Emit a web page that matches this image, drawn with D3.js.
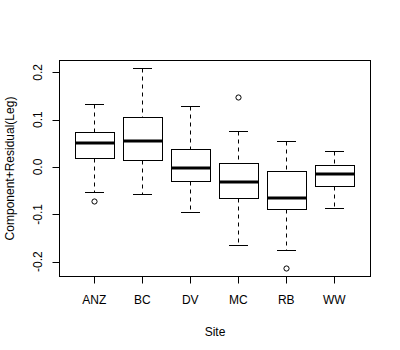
<!DOCTYPE html>
<html><head><meta charset="utf-8">
<script src="https://cdn.jsdelivr.net/npm/d3@7"></script>
<style>body{margin:0;background:#fff}svg{display:block}text{font-family:"Liberation Sans",Arial,sans-serif;fill:#000}</style>
</head><body><svg id="c" width="400" height="350"></svg>
<script>
const sites = ["ANZ","BC","DV","MC","RB","WW"];
const whiskerHigh = [0.132, 0.210, 0.128, 0.075, 0.054, 0.033];
const q3 = [0.073, 0.105, 0.037, 0.008, -0.009, 0.004];
const medians = [0.050, 0.054, -0.003, -0.032, -0.066, -0.015];
const q1 = [0.018, 0.014, -0.030, -0.066, -0.089, -0.041];
const whiskerLow = [-0.053, -0.057, -0.095, -0.165, -0.176, -0.087];
const outliers = [[-0.0725], [], [], [0.147], [-0.213], []];
const yTicks = [-0.2, -0.1, 0.0, 0.1, 0.2];

const svg = d3.select("#c");
const x = d3.scaleLinear().domain([1, 6]).range([94.3, 334.3]);
const y = d3.scaleLinear().domain([-0.2, 0.2]).range([261.7, 72.3]);

// R-style 4% expansion
const allVals = [...whiskerHigh, ...whiskerLow, ...outliers.flat()];
const yMin = d3.min(allVals), yMax = d3.max(allVals);
const yPad = (yMax - yMin) * 0.04;
const xLo = 0.5 - 0.24, xHi = sites.length + 0.5 + 0.24;
const L = Math.round(x(xLo)) + 0.5, R = Math.round(x(xHi)) + 0.5;
const T = Math.round(y(yMax + yPad)) + 0.5, B = Math.round(y(yMin - yPad)) + 0.5;
const px = v => Math.round(v) + 0.5;

const bw = (x(2) - x(1)) * 0.8;
const cw = bw / 2;
const fs = "12px";

const g = svg.append("g");
sites.forEach((s, i) => {
  const cx = px(x(i + 1));
  g.append("line").attr("x1", cx).attr("x2", cx).attr("y1", px(y(whiskerHigh[i]))).attr("y2", px(y(q3[i])))
    .attr("stroke", "#000").attr("stroke-dasharray", "4,4");
  g.append("line").attr("x1", cx).attr("x2", cx).attr("y1", px(y(q1[i]))).attr("y2", px(y(whiskerLow[i])))
    .attr("stroke", "#000").attr("stroke-dasharray", "4,4");
  [whiskerHigh[i], whiskerLow[i]].forEach(v => {
    g.append("line").attr("x1", Math.round(x(i+1) - cw/2)).attr("x2", Math.round(x(i+1) + cw/2))
      .attr("y1", px(y(v))).attr("y2", px(y(v))).attr("stroke", "#000");
  });
  const bl = px(x(i+1) - bw/2), br = px(x(i+1) + bw/2);
  g.append("rect").attr("x", bl).attr("y", px(y(q3[i])))
    .attr("width", br - bl).attr("height", px(y(q1[i])) - px(y(q3[i])))
    .attr("fill", "#fff").attr("stroke", "#000");
  g.append("line").attr("x1", bl).attr("x2", br).attr("y1", Math.round(y(medians[i]))).attr("y2", Math.round(y(medians[i])))
    .attr("stroke", "#000").attr("stroke-width", 3);
  outliers[i].forEach(v => {
    g.append("circle").attr("cx", cx).attr("cy", px(y(v))).attr("r", 2.6)
      .attr("fill", "none").attr("stroke", "#000");
  });
});

svg.append("rect").attr("x", L).attr("y", T).attr("width", R - L).attr("height", B - T)
  .attr("fill", "none").attr("stroke", "#000");

sites.forEach((s, i) => {
  const cx = px(x(i + 1));
  svg.append("line").attr("x1", cx).attr("x2", cx).attr("y1", B).attr("y2", B + 7).attr("stroke", "#000");
  svg.append("text").attr("x", x(i + 1)).attr("y", 303.5).attr("text-anchor", "middle")
    .attr("font-size", fs).text(s);
});
yTicks.forEach(t => {
  const ty = px(y(t));
  svg.append("line").attr("x1", L - 7).attr("x2", L).attr("y1", ty).attr("y2", ty).attr("stroke", "#000");
  svg.append("text").attr("transform", `translate(41.5,${y(t)}) rotate(-90)`).attr("text-anchor", "middle")
    .attr("font-size", fs).text(t.toFixed(1));
});
svg.append("text").attr("x", (L + R) / 2).attr("y", 336).attr("text-anchor", "middle")
  .attr("font-size", fs).text("Site");
svg.append("text").attr("transform", `translate(14,${(T + B) / 2}) rotate(-90)`).attr("text-anchor", "middle")
  .attr("font-size", fs).text("Component+Residual(Leg)");
</script></body></html>
